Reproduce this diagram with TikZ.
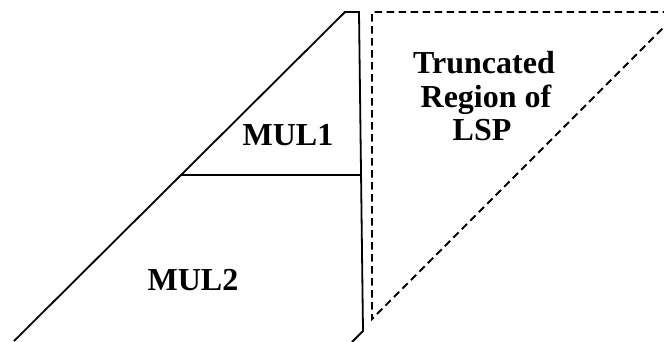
\documentclass[tikz,border=0pt]{standalone}
\usepackage{fontspec}
\setmainfont{Liberation Serif}
\begin{document}
\begin{tikzpicture}[x=1pt,y=-1pt,
  solidline/.style={line width=1.8pt,line join=miter},
  dashline/.style={line width=1.8pt,dash pattern=on 7.5pt off 4.5pt},
  lbl/.style={font=\fontsize{32}{34}\selectfont\bfseries,inner sep=0pt,anchor=base}]
\useasboundingbox (0,0) rectangle (664,341);
\clip (0,0) rectangle (664,341);
\coordinate (bl) at (14,341);
\coordinate (tl) at (345,12);
\coordinate (tr) at (359,12);
\coordinate (br) at (363,331);
\coordinate (bo) at (352,342);
\coordinate (ml) at (181,175);
\coordinate (mr) at (361,175);
\draw[solidline] (bl) -- (tl) -- (tr) -- (br) -- (bo);
\draw[solidline] (ml) -- (mr);
\coordinate (dtl) at (372,12);
\coordinate (dtr) at (670,12);
\coordinate (dbl) at (372,319);
\coordinate (dur) at (670,21);
\draw[dashline] (dtr) -- (dtl) -- (dbl) -- (dur);
\node[lbl] (m1) at (288,145) {MUL1};
\node[lbl] (m2) at (193,290) {MUL2};
\node[lbl] (t1) at (484,73) {Truncated};
\node[lbl] (t2) at (486,107) {Region of};
\node[lbl] (t3) at (482,140) {LSP};
\end{tikzpicture}
\end{document}
